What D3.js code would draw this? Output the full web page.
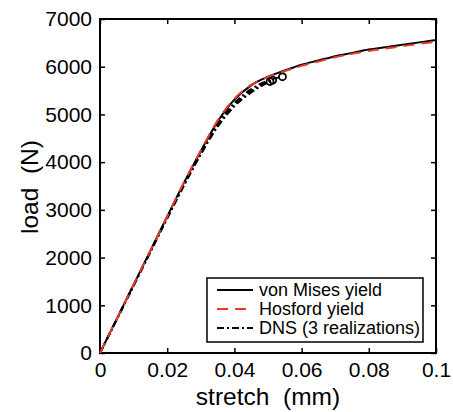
<!DOCTYPE html>
<html>
<head>
<meta charset="utf-8">
<script src="https://cdn.jsdelivr.net/npm/d3@7"></script>
<style>
  html, body { margin: 0; padding: 0; background: #fff; }
  svg { display: block; font-family: "Liberation Sans", Arial, Helvetica, sans-serif; }
</style>
</head>
<body>
<svg id="chart" width="453" height="412"></svg>
<script>
// Load–stretch curves (stretch in mm, load in N)
const stretch = [0, 0.005, 0.01, 0.015, 0.02, 0.025, 0.03, 0.035, 0.04, 0.045, 0.05,
                 0.055, 0.06, 0.065, 0.07, 0.075, 0.08, 0.085, 0.09, 0.095, 0.1];
const vonMisesLoad = [0, 715, 1430, 2145, 2860, 3570, 4230, 4850, 5310, 5610, 5790,
                      5920, 6040, 6130, 6220, 6290, 6360, 6410, 6460, 6510, 6560];
const hosfordLoad  = [0, 715, 1430, 2145, 2860, 3575, 4245, 4870, 5330, 5620, 5790,
                      5910, 6020, 6110, 6200, 6270, 6330, 6380, 6430, 6480, 6520];

// DNS realizations (each ends at its failure point)
const dnsStretch = [
  [0, 0.005, 0.01, 0.015, 0.02, 0.025, 0.03, 0.035, 0.04, 0.045, 0.0506],
  [0, 0.005, 0.01, 0.015, 0.02, 0.025, 0.03, 0.035, 0.04, 0.045, 0.05, 0.0514],
  [0, 0.005, 0.01, 0.015, 0.02, 0.025, 0.03, 0.035, 0.04, 0.045, 0.05, 0.0543]
];
const dnsLoad = [
  [0, 705, 1410, 2115, 2820, 3510, 4160, 4740, 5170, 5460, 5690],
  [0, 708, 1415, 2125, 2830, 3525, 4180, 4770, 5200, 5490, 5680, 5720],
  [0, 710, 1420, 2130, 2840, 3540, 4200, 4800, 5240, 5530, 5710, 5790]
];

const xTicks = [0, 0.02, 0.04, 0.06, 0.08, 0.1];
const yTicks = [0, 1000, 2000, 3000, 4000, 5000, 6000, 7000];
const legendLabels = ["von Mises yield", "Hosford yield", "DNS (3 realizations)"];

const svg = d3.select("#chart");
const plotLeft = 100, plotRight = 436, plotTop = 19, plotBottom = 353;

const x = d3.scaleLinear().domain([0, 0.1]).range([plotLeft, plotRight]);
const y = d3.scaleLinear().domain([0, 7000]).range([plotBottom, plotTop]);

const tickFont = "21px";
const fmtX = d => d === 0 ? "0" : String(+d.toFixed(2));

// Axes with inward ticks
const gx = svg.append("g").attr("transform", `translate(0,${plotBottom})`)
  .call(d3.axisBottom(x).tickValues(xTicks).tickFormat(fmtX)
        .tickSizeInner(-5).tickSizeOuter(0).tickPadding(9));
const gy = svg.append("g").attr("transform", `translate(${plotLeft},0)`)
  .call(d3.axisLeft(y).tickValues(yTicks).tickFormat(d3.format("d"))
        .tickSizeInner(-5).tickSizeOuter(0).tickPadding(8));
const gxt = svg.append("g").attr("transform", `translate(0,${plotTop})`)
  .call(d3.axisTop(x).tickValues(xTicks).tickFormat("")
        .tickSizeInner(-5).tickSizeOuter(0));
const gyr = svg.append("g").attr("transform", `translate(${plotRight},0)`)
  .call(d3.axisRight(y).tickValues(yTicks).tickFormat("")
        .tickSizeInner(-5).tickSizeOuter(0));

[gx, gy, gxt, gyr].forEach(g => {
  g.select(".domain").remove();
  g.selectAll(".tick line").attr("stroke", "#000").attr("stroke-width", 1.5);
  g.selectAll(".tick text").attr("fill", "#000").style("font-size", tickFont)
    .style("font-family", "'Liberation Sans', Arial, sans-serif");
});

// Plot frame
svg.append("rect")
  .attr("x", plotLeft).attr("y", plotTop)
  .attr("width", plotRight - plotLeft).attr("height", plotBottom - plotTop)
  .attr("fill", "none").attr("stroke", "#000").attr("stroke-width", 2);

const line = d3.line().x(d => x(d[0])).y(d => y(d[1])).curve(d3.curveMonotoneX);

// DNS realizations: dash-dot black
dnsStretch.forEach((xs, i) => {
  const pts = xs.map((s, j) => [s, dnsLoad[i][j]]);
  svg.append("path").datum(pts)
    .attr("d", line).attr("fill", "none")
    .attr("stroke", "#000").attr("stroke-width", 2)
    .attr("stroke-dasharray", "7,3,2,3");
  const last = pts[pts.length - 1];
  svg.append("circle")
    .attr("cx", x(last[0])).attr("cy", y(last[1])).attr("r", 3.5)
    .attr("fill", "none").attr("stroke", "#000").attr("stroke-width", 1.8);
});

// von Mises: solid black
svg.append("path").datum(stretch.map((s, i) => [s, vonMisesLoad[i]]))
  .attr("d", line).attr("fill", "none")
  .attr("stroke", "#000").attr("stroke-width", 2);

// Hosford: red dashed
svg.append("path").datum(stretch.map((s, i) => [s, hosfordLoad[i]]))
  .attr("d", line).attr("fill", "none")
  .attr("stroke", "#e8392b").attr("stroke-width", 2)
  .attr("stroke-dasharray", "11,7");

// Axis titles
svg.append("text")
  .attr("x", 268).attr("y", 404.5)
  .attr("text-anchor", "middle")
  .style("font-size", "24.5px").style("white-space", "pre")
  .text("stretch  (mm)");
svg.append("text")
  .attr("transform", "translate(38,187) rotate(-90)")
  .attr("text-anchor", "middle")
  .style("font-size", "24.5px").style("white-space", "pre")
  .text("load  (N)");

// Legend
const lg = svg.append("g");
lg.append("rect")
  .attr("x", 207).attr("y", 278).attr("width", 216).attr("height", 64)
  .attr("fill", "#fff").attr("stroke", "#000").attr("stroke-width", 1.5);
const legendStyles = [
  { stroke: "#000", dash: null },
  { stroke: "#e8392b", dash: "11,7" },
  { stroke: "#000", dash: "7,3,2,3" }
];
legendLabels.forEach((label, i) => {
  const ry = 290 + i * 19;
  lg.append("line")
    .attr("x1", 217).attr("x2", 253).attr("y1", ry).attr("y2", ry)
    .attr("stroke", legendStyles[i].stroke).attr("stroke-width", 2)
    .attr("stroke-dasharray", legendStyles[i].dash);
  lg.append("text")
    .attr("x", 259).attr("y", ry).attr("dy", "0.35em")
    .style("font-size", "18px")
    .text(label);
});
</script>
</body>
</html>
